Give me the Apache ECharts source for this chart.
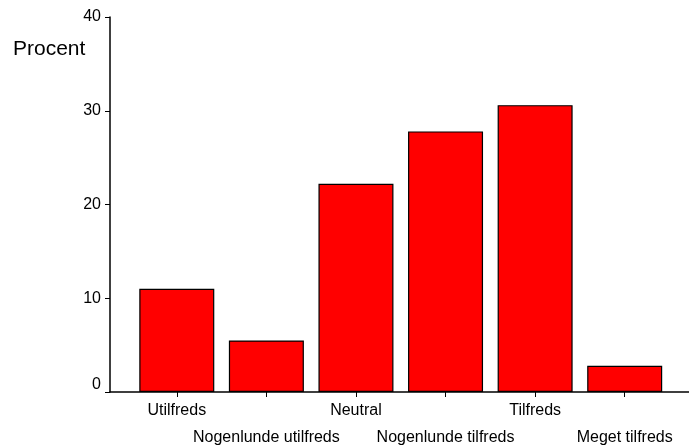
<!DOCTYPE html>
<html>
<head>
<meta charset="utf-8">
<script src="https://cdn.jsdelivr.net/npm/echarts@6/dist/echarts.min.js"></script>
<style>html,body{margin:0;padding:0;background:#fff;}#c{width:689px;height:445px;}</style>
</head>
<body>
<div id="c"></div>
<script>
var categories = ['Utilfreds', 'Nogenlunde utilfreds', 'Neutral', 'Nogenlunde tilfreds', 'Tilfreds', 'Meget tilfreds'];
var values = [11.0, 5.5, 22.2, 27.8, 30.6, 2.8];
var yTicks = [0, 10, 20, 30, 40];

var chart = echarts.init(document.getElementById('c'), null, {renderer: 'canvas'});
var font = 'Liberation Sans, Arial, sans-serif';
chart.setOption({
  animation: false,
  backgroundColor: '#fff',
  title: {
    text: 'Procent', left: 8, top: 34,
    textStyle: {fontFamily: font, fontSize: 21, fontWeight: 'normal', color: '#000'}
  },
  grid: [
    {left: 132, right: 19.5, top: 17, bottom: 53, containLabel: false, outerBoundsMode: 'none'},
    {left: 110, right: 0, top: 17, bottom: 53, containLabel: false, outerBoundsMode: 'none'}
  ],
  xAxis: [
    {
      type: 'category', gridIndex: 0, data: categories,
      boundaryGap: true,
      axisLine: {show: false},
      axisTick: {show: true, alignWithLabel: true, length: 5, lineStyle: {color: '#000', width: 1}},
      axisLabel: {
        interval: 0, margin: 5, color: '#000', fontFamily: font, fontSize: 16, lineHeight: 27,
        formatter: function (v, i) { return i % 2 === 1 ? '\n' + v : v; }
      },
      splitLine: {show: false}
    },
    {
      type: 'value', gridIndex: 1, min: 0, max: 1,
      axisLine: {show: true, onZero: false, lineStyle: {color: '#000', width: 1.5}},
      axisTick: {show: false}, axisLabel: {show: false}, splitLine: {show: false}
    }
  ],
  yAxis: [
    {
      type: 'value', gridIndex: 0, min: 0, max: 40, interval: 10,
      axisLine: {show: false}, axisTick: {show: false}, axisLabel: {show: false}, splitLine: {show: false}
    },
    {
      type: 'value', gridIndex: 1, min: yTicks[0], max: yTicks[yTicks.length - 1], interval: 10,
      axisLine: {show: true, lineStyle: {color: '#000', width: 1.5}},
      axisTick: {show: true, length: 5, lineStyle: {color: '#000', width: 1}},
      axisLabel: {
        margin: 9, color: '#000', fontFamily: font, fontSize: 16,
        formatter: function (v) { return v === 0 ? '{z|0}' : String(v); },
        rich: {z: {fontFamily: font, fontSize: 16, color: '#000', padding: [0, 0, 14, 0]}}
      },
      splitLine: {show: false}
    }
  ],
  series: [{
    type: 'bar', xAxisIndex: 0, yAxisIndex: 0,
    data: values, barWidth: 75,
    itemStyle: {color: '#ff0000', borderColor: '#000', borderWidth: 1.2}
  }]
});
</script>
</body>
</html>
